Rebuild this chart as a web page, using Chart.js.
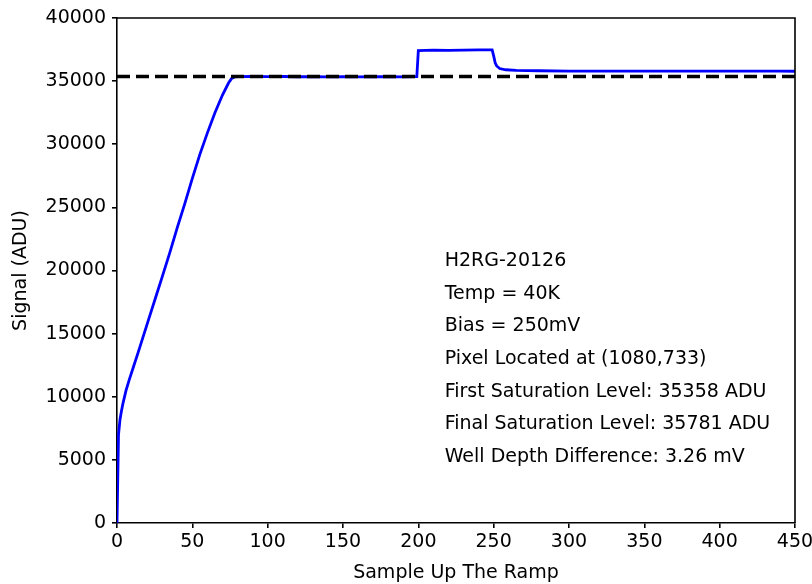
<!DOCTYPE html>
<html>
<head>
<meta charset="utf-8">
<script src="https://cdn.jsdelivr.net/npm/chart.js@4.4.1/dist/chart.umd.min.js"></script>
<style>
  html, body { margin: 0; padding: 0; background: #fff; }
  #wrap { width: 812px; height: 584px; }
</style>
</head>
<body>
<div id="wrap"><canvas id="rampChart" width="812" height="584"></canvas></div>
<script>
// ramp samples and measured signal (ADU)
const samples = [0, 1, 2, 3, 4, 6, 8, 11, 14, 18, 22, 26, 30, 35, 40, 45, 50, 55, 60, 65, 70, 74, 76, 78, 80,
    90, 100, 110, 120, 130, 140, 150, 160, 170, 180, 190, 199,
    200, 210, 220, 230, 240, 249, 250, 251, 252, 254, 258, 265, 280,
    300, 320, 340, 360, 380, 400, 420, 440, 450];
const signal = [0, 7000, 8200, 8900, 9500, 10500, 11300, 12400, 13500, 15000, 16500, 18000, 19500, 21400, 23400, 25300, 27300, 29200, 30900, 32500, 33900, 34850, 35200, 35330, 35360,
    35370, 35350, 35365, 35345, 35360, 35340, 35355, 35330, 35345, 35360, 35340, 35360,
    37420, 37450, 37430, 37460, 37470, 37470, 37000, 36450, 36200, 36000, 35900, 35850, 35820,
    35800, 35790, 35800, 35785, 35795, 35790, 35800, 35785, 35781];

const firstSaturation = 35358;
const infoLines = [
    'H2RG-20126',
    'Temp = 40K',
    'Bias = 250mV',
    'Pixel Located at (1080,733)',
    'First Saturation Level: 35358 ADU',
    'Final Saturation Level: 35781 ADU',
    'Well Depth Difference: 3.26 mV'
];
const xTicks = [0, 50, 100, 150, 200, 250, 300, 350, 400, 450];
const yTicks = [0, 5000, 10000, 15000, 20000, 25000, 30000, 35000, 40000];

const FONT = 'DejaVu Sans';

// box around the plot plus the info text block
const decorations = {
    id: 'decorations',
    afterDatasetsDraw(chart) {
        const ctx = chart.ctx;
        const a = chart.chartArea;
        ctx.save();
        ctx.strokeStyle = '#000';
        ctx.lineWidth = 1.6;
        ctx.beginPath();
        ctx.moveTo(a.left, a.top);
        ctx.lineTo(a.right, a.top);
        ctx.lineTo(a.right, a.bottom);
        ctx.stroke();

        ctx.fillStyle = '#000';
        ctx.font = '19px "' + FONT + '"';
        ctx.textBaseline = 'middle';
        const x0 = chart.scales.x.getPixelForValue(217.5);
        const y0 = chart.scales.y.getPixelForValue(20750);
        infoLines.forEach((line, i) => ctx.fillText(line, x0, y0 + i * 32.7));
        ctx.restore();
    }
};

const ctx = document.getElementById('rampChart').getContext('2d');
new Chart(ctx, {
    type: 'line',
    data: {
        datasets: [{
            data: [{ x: 0, y: firstSaturation }, { x: 450, y: firstSaturation }],
            borderColor: '#000',
            borderWidth: 3.5,
            borderDash: [13, 6],
            pointRadius: 0,
            order: 0
        }, {
            data: samples.map((s, i) => ({ x: s, y: signal[i] })),
            borderColor: '#0000ff',
            borderWidth: 2.8,
            pointRadius: 0,
            tension: 0,
            order: 1
        }]
    },
    options: {
        responsive: false,
        animation: false,
        layout: { padding: { left: 0, right: 17, top: 18, bottom: 0 } },
        plugins: {
            legend: { display: false },
            tooltip: { enabled: false }
        },
        scales: {
            x: {
                type: 'linear',
                min: 0,
                max: 450,
                afterBuildTicks: scale => { scale.ticks = xTicks.map(v => ({ value: v })); },
                afterFit: scale => {
                    scale.height = 61;
                    scale.paddingLeft = 0;
                    scale.paddingRight = 0;
                },
                grid: { drawOnChartArea: false, drawTicks: true, tickLength: 5, color: '#000', lineWidth: 1.6 },
                border: { display: true, color: '#000', width: 1.6 },
                ticks: { color: '#000', font: { family: FONT, size: 19 }, padding: 3, maxRotation: 0 },
                title: { display: true, text: 'Sample Up The Ramp', color: '#000', font: { family: FONT, size: 19 }, padding: { top: 0, bottom: 0 } }
            },
            y: {
                type: 'linear',
                min: 0,
                max: 40000,
                afterBuildTicks: scale => { scale.ticks = yTicks.map(v => ({ value: v })); },
                afterFit: scale => { scale.width = 117; },
                grid: { drawOnChartArea: false, drawTicks: true, tickLength: 5, color: '#000', lineWidth: 1.6 },
                border: { display: true, color: '#000', width: 1.6 },
                ticks: { color: '#000', font: { family: FONT, size: 19 }, padding: 6, callback: v => String(v) },
                title: { display: true, text: 'Signal (ADU)', color: '#000', font: { family: FONT, size: 19 }, padding: { top: 10, bottom: 0 } }
            }
        }
    },
    plugins: [decorations]
});
</script>
</body>
</html>
